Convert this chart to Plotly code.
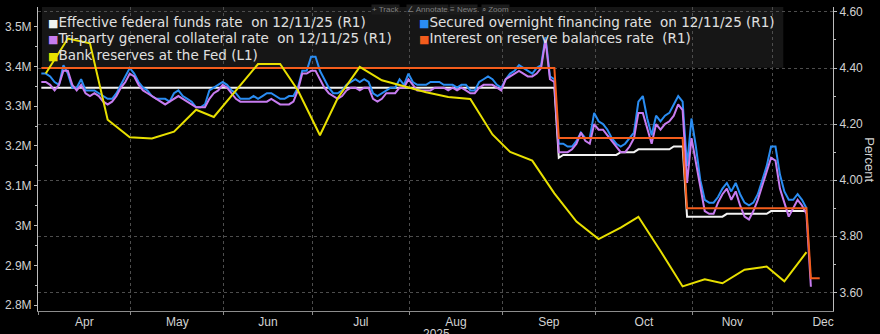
import pandas as pd
import plotly.graph_objects as go

# ---------------- data ----------------
HOLIDAYS = ["2025-04-18", "2025-05-26", "2025-06-19", "2025-07-04",
            "2025-09-01", "2025-10-13", "2025-11-11", "2025-11-27"]
MONTHS = ["Apr", "May", "Jun", "Jul", "Aug", "Sep", "Oct", "Nov", "Dec"]

# Secured overnight financing rate, daily from 2025-04-01 (business days)
SOFR = [
    4.38, 4.38, 4.37, 4.35, 4.34, 4.41, 4.38, 4.33, 4.33, 4.36,
    4.32, 4.32, 4.32, 4.31, 4.30, 4.29, 4.29, 4.31, 4.34, 4.37,
    4.40, 4.38, 4.35, 4.33, 4.32, 4.30, 4.29, 4.29, 4.29, 4.28,
    4.31, 4.32, 4.30, 4.29, 4.28, 4.26, 4.26, 4.27, 4.32, 4.33,
    4.34, 4.35, 4.34, 4.32, 4.31, 4.29, 4.29, 4.29, 4.30, 4.29,
    4.30, 4.31, 4.31, 4.30, 4.29, 4.29, 4.30, 4.30, 4.33, 4.39,
    4.39, 4.44, 4.44, 4.39, 4.36, 4.33, 4.31, 4.31, 4.32, 4.34,
    4.35, 4.36, 4.35, 4.36, 4.35, 4.31, 4.30, 4.31, 4.32, 4.33,
    4.33, 4.36, 4.34, 4.38, 4.35, 4.34, 4.34, 4.34, 4.35, 4.35,
    4.35, 4.34, 4.34, 4.34, 4.33, 4.34, 4.34, 4.32, 4.32, 4.35,
    4.36, 4.37, 4.36, 4.34, 4.33, 4.36, 4.38, 4.39, 4.41, 4.40,
    4.39, 4.38, 4.40, 4.41, 4.51, 4.37, 4.36, 4.13, 4.13, 4.12,
    4.12, 4.14, 4.17, 4.15, 4.15, 4.24, 4.21, 4.20, 4.18, 4.15,
    4.13, 4.12, 4.13, 4.15, 4.17, 4.28, 4.30, 4.22, 4.16, 4.23,
    4.21, 4.23, 4.24, 4.27, 4.30, 4.28, 4.05, 4.22, 4.12, 4.00,
    3.93, 3.92, 3.92, 3.94, 3.97, 3.99, 3.96, 3.99, 3.95, 3.92,
    3.91, 3.92, 3.95, 4.00, 4.05, 4.12, 4.12, 4.02, 3.96, 3.93,
    3.93, 3.95, 3.93, 3.90,
]

# Tri-party general collateral rate, daily from 2025-04-01
TGCR = [
    4.35, 4.35, 4.34, 4.32, 4.34, 4.39, 4.39, 4.34, 4.32, 4.34,
    4.31, 4.30, 4.31, 4.30, 4.28, 4.27, 4.28, 4.30, 4.33, 4.35,
    4.38, 4.37, 4.34, 4.32, 4.31, 4.30, 4.29, 4.28, 4.27, 4.28,
    4.29, 4.30, 4.29, 4.28, 4.27, 4.26, 4.26, 4.26, 4.29, 4.31,
    4.32, 4.34, 4.33, 4.31, 4.29, 4.28, 4.28, 4.28, 4.28, 4.28,
    4.28, 4.28, 4.29, 4.28, 4.27, 4.27, 4.27, 4.28, 4.32, 4.38,
    4.38, 4.39, 4.39, 4.36, 4.33, 4.31, 4.30, 4.29, 4.30, 4.32,
    4.33, 4.33, 4.32, 4.33, 4.33, 4.29, 4.28, 4.29, 4.31, 4.31,
    4.31, 4.33, 4.33, 4.36, 4.34, 4.32, 4.32, 4.32, 4.32, 4.33,
    4.33, 4.33, 4.32, 4.33, 4.32, 4.33, 4.32, 4.31, 4.31, 4.33,
    4.34, 4.34, 4.34, 4.33, 4.32, 4.36, 4.37, 4.38, 4.39, 4.38,
    4.37, 4.37, 4.38, 4.40, 4.50, 4.36, 4.35, 4.10, 4.10, 4.10,
    4.11, 4.13, 4.17, 4.14, 4.13, 4.20, 4.18, 4.18, 4.16, 4.14,
    4.12, 4.10, 4.10, 4.12, 4.15, 4.24, 4.24, 4.18, 4.13, 4.20,
    4.18, 4.20, 4.21, 4.23, 4.27, 4.25, 3.99, 4.15, 4.06, 3.97,
    3.89, 3.88, 3.88, 3.92, 3.95, 3.97, 3.93, 3.96, 3.91, 3.87,
    3.86, 3.89, 3.93, 3.98, 4.03, 4.08, 4.07, 3.97, 3.92, 3.87,
    3.90, 3.93, 3.91, 3.88, 3.62,
]

# Effective federal funds rate, daily from 2025-04-01
EFFR = [
    4.33, 4.33, 4.33, 4.33, 4.33, 4.33, 4.33, 4.33, 4.33, 4.33,
    4.33, 4.33, 4.33, 4.33, 4.33, 4.33, 4.33, 4.33, 4.33, 4.33,
    4.33, 4.33, 4.33, 4.33, 4.33, 4.33, 4.33, 4.33, 4.33, 4.33,
    4.33, 4.33, 4.33, 4.33, 4.33, 4.33, 4.33, 4.33, 4.33, 4.33,
    4.33, 4.33, 4.33, 4.33, 4.33, 4.33, 4.33, 4.33, 4.33, 4.33,
    4.33, 4.33, 4.33, 4.33, 4.33, 4.33, 4.33, 4.33, 4.33, 4.33,
    4.33, 4.33, 4.33, 4.33, 4.33, 4.33, 4.33, 4.33, 4.33, 4.33,
    4.33, 4.33, 4.33, 4.33, 4.33, 4.33, 4.33, 4.33, 4.33, 4.33,
    4.33, 4.33, 4.33, 4.33, 4.33, 4.33, 4.33, 4.33, 4.33, 4.33,
    4.33, 4.33, 4.33, 4.33, 4.33, 4.33, 4.33, 4.33, 4.33, 4.33,
    4.33, 4.33, 4.33, 4.33, 4.33, 4.33, 4.33, 4.33, 4.33, 4.33,
    4.33, 4.33, 4.33, 4.33, 4.33, 4.33, 4.33, 4.08, 4.09, 4.09,
    4.09, 4.09, 4.09, 4.09, 4.09, 4.09, 4.09, 4.09, 4.09, 4.09,
    4.09, 4.10, 4.10, 4.10, 4.10, 4.11, 4.11, 4.11, 4.11, 4.11,
    4.11, 4.11, 4.11, 4.12, 4.12, 4.12, 3.87, 3.87, 3.87, 3.87,
    3.87, 3.87, 3.87, 3.87, 3.87, 3.88, 3.88, 3.88, 3.88, 3.88,
    3.88, 3.88, 3.88, 3.88, 3.88, 3.89, 3.89, 3.89, 3.89, 3.89,
    3.89, 3.89, 3.89, 3.89,
]

# Interest on reserve balances rate (policy steps)
IORB_DATES = ["2025-04-01", "2025-09-17", "2025-09-18", "2025-10-29",
              "2025-10-30", "2025-12-10", "2025-12-11", "2025-12-15"]
IORB = [4.40, 4.40, 4.15, 4.15, 3.90, 3.90, 3.65, 3.65]

# Bank reserves at the Fed, weekly (Wednesdays) from 2025-04-02, $ millions
RES_START = "2025-04-02"
RESERVES = [
    3382000, 3470000, 3458000, 3266000, 3222000, 3219000, 3236000, 3291000,
    3273000, 3340000, 3406000, 3406000, 3340000, 3227000, 3320000, 3399000,
    3365000, 3350000, 3335000, 3323000, 3318000, 3229000, 3185000, 3163000,
    3081000, 3010000, 2966000, 2995000, 3022000, 2936000, 2847000, 2865000,
    2855000, 2889000, 2897000, 2860000, 2933000,
]

LABELS = [
    "Effective federal funds rate\u00a0 on 12/11/25 (R1)",
    "Secured overnight financing rate\u00a0 on 12/11/25 (R1)",
    "Tri-party general collateral rate\u00a0 on 12/11/25 (R1)",
    "Interest on reserve balances rate\u00a0 (R1)",
    "Bank reserves at the Fed (L1)",
]
COLORS = ["#f2f2f2", "#2a8df2", "#c77cf0", "#f45d1c", "#e8e000"]
TOOLBAR = ["+ Track", "∠ Annotate", "≡ News", "⌕ Zoom"]

# ---------------- positions ----------------
bdays = pd.bdate_range("2025-04-01", "2025-12-31", freq="C", holidays=HOLIDAYS)
shift = pd.Timedelta(hours=18)
day_x = bdays + shift

month_starts, month_mids = [], []
for m in range(4, 13):
    days = bdays[bdays.month == m]
    month_starts.append(days[0])
    k = len(days) / 2
    month_mids.append(days[int(k)] + pd.Timedelta(days=k - int(k)))

res_x = pd.date_range(RES_START, periods=len(RESERVES), freq="7D") + shift
iorb_x = pd.to_datetime(IORB_DATES) + shift

fig = go.Figure()
series = [
    (day_x[:len(EFFR)], EFFR, 0),
    (day_x[:len(SOFR)], SOFR, 1),
    (day_x[:len(TGCR)], TGCR, 2),
    (iorb_x, IORB, 3),
]
for xs, ys, ci in series:
    fig.add_trace(go.Scatter(x=xs, y=ys, mode="lines", yaxis="y", name=LABELS[ci],
                             line=dict(color=COLORS[ci], width=2), hoverinfo="skip"))
fig.add_trace(go.Scatter(x=res_x, y=RESERVES, mode="lines", yaxis="y2", name=LABELS[4],
                         line=dict(color=COLORS[4], width=2), hoverinfo="skip"))

W, H = 880, 334
L, R, T, B = 33, 47, 5, 19
PW, PH = W - L - R, H - T - B


def px(x):
    return (x - L) / PW


def py(y):
    return (H - B - y) / PH


GRID = "#4d4d4d"
TICKC = "#d2d2d2"
TF = "Liberation Sans"

fig.update_layout(
    width=W, height=H,
    margin=dict(l=L, r=R, t=T, b=B),
    paper_bgcolor="#000000", plot_bgcolor="#000000",
    showlegend=False,
    font=dict(family=TF, color=TICKC, size=12),
    xaxis=dict(
        type="date",
        range=["2025-04-01", "2025-12-18 18:00"],
        rangebreaks=[dict(bounds=["sat", "mon"]), dict(values=HOLIDAYS)],
        tickmode="array", tickvals=month_mids, ticktext=MONTHS,
        ticks="", showgrid=False, zeroline=False,
        showline=True, linecolor="#8c8c8c", linewidth=1,
        tickfont=dict(size=12, color=TICKC),
        minor=dict(tickmode="array", tickvals=month_starts, ticks="outside",
                   ticklen=3, tickcolor="#8c8c8c", showgrid=True,
                   gridcolor=GRID, griddash="dot", gridwidth=1),
    ),
    yaxis=dict(
        side="right", range=[3.5336, 4.6175],
        tickmode="linear", tick0=3.6, dtick=0.2, tickformat=".2f",
        ticks="outside", ticklen=3, tickcolor="#bdbdbd",
        showgrid=True, gridcolor=GRID, griddash="dot", gridwidth=1,
        zeroline=False, showline=True, linecolor="#bdbdbd", linewidth=1,
        tickfont=dict(size=12, color=TICKC),
        minor=dict(tick0=3.6, dtick=0.1, ticks="outside", ticklen=2,
                   tickcolor="#bdbdbd", showgrid=False),
    ),
    yaxis2=dict(
        side="left", overlaying="y", range=[2785200, 3549300],
        tickmode="linear", tick0=2800000, dtick=100000, tickformat=".2~s",
        ticks="outside", ticklen=3, tickcolor="#bdbdbd",
        showgrid=False, zeroline=False,
        showline=True, linecolor="#bdbdbd", linewidth=1,
        tickfont=dict(size=12, color=TICKC),
        minor=dict(tick0=2800000, dtick=50000, ticks="outside", ticklen=2,
                   tickcolor="#bdbdbd", showgrid=False),
    ),
)

# legend box
fig.add_shape(type="rect", xref="paper", yref="paper",
              x0=px(37), x1=px(783), y0=py(67), y1=py(5),
              fillcolor="#161616", line=dict(width=0), layer="between")

legend_pos = [(41, 20.5), (414, 20.5), (41, 37), (414, 37), (41, 53.5)]
for (lx, ly), lab, col in zip(legend_pos, LABELS, COLORS):
    fig.add_annotation(
        xref="paper", yref="paper", x=px(lx), y=py(ly),
        xanchor="left", yanchor="middle", showarrow=False,
        text=f'<span style="color:{col};font-size:11px">■</span>{lab}',
        font=dict(family="DejaVu Sans", size=13.5, color="#e0e0e0"),
    )

# toolbar chrome
for lx, label in zip([368, 403, 447, 479], TOOLBAR):
    fig.add_annotation(
        xref="paper", yref="paper", x=px(lx), y=py(8),
        xanchor="left", yanchor="middle", showarrow=False,
        text=label, bgcolor="#1c1c1c", borderpad=0,
        font=dict(family=TF, size=8, color="#808080"),
    )

# right axis title
fig.add_annotation(xref="paper", yref="paper", x=px(869), y=py(161),
                   xanchor="center", yanchor="middle", showarrow=False,
                   text="Percent", textangle=90,
                   font=dict(family=TF, size=13, color=TICKC))

# year label (mostly below the visible area, as in the reference)
fig.add_annotation(xref="paper", yref="paper", x=px(434), y=py(329),
                   xanchor="center", yanchor="top", showarrow=False,
                   text="2025", font=dict(family=TF, size=12, color=TICKC))

fig.write_html("out.html")
